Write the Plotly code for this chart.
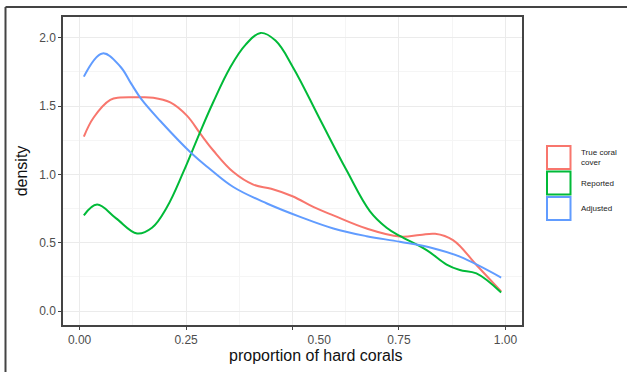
import plotly.graph_objects as go

# ---- data ----
true_x = [0.01, 0.033, 0.072, 0.095, 0.135, 0.173, 0.213, 0.252, 0.283, 0.314, 0.361, 0.408, 0.45, 0.50, 0.55, 0.596, 0.674, 0.752, 0.799, 0.835, 0.877, 0.932, 0.99]
true_y = [1.277, 1.417, 1.546, 1.563, 1.565, 1.562, 1.527, 1.43, 1.30, 1.175, 1.017, 0.925, 0.895, 0.84, 0.76, 0.70, 0.604, 0.545, 0.556, 0.565, 0.519, 0.337, 0.143]

rep_x = [0.01, 0.041, 0.085, 0.135, 0.17, 0.205, 0.244, 0.283, 0.314, 0.353, 0.39, 0.425, 0.46, 0.502, 0.565, 0.627, 0.682, 0.721, 0.752, 0.815, 0.862, 0.893, 0.932, 0.99]
rep_y = [0.70, 0.779, 0.68, 0.568, 0.61, 0.76, 1.02, 1.31, 1.53, 1.78, 1.95, 2.036, 1.98, 1.78, 1.40, 1.03, 0.73, 0.61, 0.55, 0.446, 0.34, 0.30, 0.275, 0.135]

adj_x = [0.01, 0.054, 0.0955, 0.12, 0.145, 0.189, 0.264, 0.306, 0.361, 0.44, 0.518, 0.596, 0.674, 0.752, 0.83, 0.893, 0.99]
adj_y = [1.716, 1.886, 1.79, 1.67, 1.551, 1.393, 1.151, 1.04, 0.908, 0.787, 0.689, 0.604, 0.548, 0.507, 0.46, 0.398, 0.245]

series_names = ["True coral\ncover", "Reported", "Adjusted"]
colors = ["#F8766D", "#00BA38", "#619CFF"]

x_ticks = [0.0, 0.25, 0.5, 0.75, 1.0]
x_ticktext = ["0.00", "0.25", "\u00a0" * 16 + "0.50", "0.75", "1.00"]
y_ticks = [0.0, 0.5, 1.0, 1.5, 2.0]

W, H = 627, 372
L, R, T, B = 63, 522, 17, 325  # plot panel in px

def px(xp):
    return (xp - L) / (R - L)

def py(yp):
    return (B - yp) / (B - T)

fig = go.Figure()
for xs, ys, c, n in zip([true_x, rep_x, adj_x], [true_y, rep_y, adj_y], colors, series_names):
    fig.add_trace(go.Scatter(x=xs, y=ys, mode="lines", name=n,
                             line=dict(color=c, width=2, shape="spline", smoothing=1.1),
                             showlegend=False, hoverinfo="skip"))

shapes = []
annotations = []
# outer frame (left & top)
shapes.append(dict(type="line", xref="paper", yref="paper", x0=px(5.5), x1=px(640), y0=py(7), y1=py(7),
                   line=dict(color="#444444", width=2)))
shapes.append(dict(type="line", xref="paper", yref="paper", x0=px(5.5), x1=px(5.5), y0=py(7), y1=py(390),
                   line=dict(color="#444444", width=2)))

# legend boxes
box_tops = [145, 170.5, 196]
for i, (c, n) in enumerate(zip(colors, series_names)):
    y0 = box_tops[i]
    shapes.append(dict(type="rect", xref="paper", yref="paper",
                       x0=px(547), x1=px(570.5), y0=py(y0 + 1), y1=py(y0 + 24),
                       line=dict(color=c, width=2), fillcolor="white"))
    txt = n.replace("\n", "<br>")
    annotations.append(dict(xref="paper", yref="paper", x=px(579), y=py(y0 + 12.5),
                            text=txt, showarrow=False, xanchor="left", yanchor="middle",
                            align="left", font=dict(size=8, color="#222222", family="Liberation Sans")))

# x-axis title (offset to the right as in the reference)
annotations.append(dict(xref="paper", yref="paper", x=px(315.5), y=py(355),
                        text="proportion of hard corals", showarrow=False,
                        xanchor="center", yanchor="middle",
                        font=dict(size=16, color="#111111", family="Liberation Sans")))

fig.update_layout(
    width=W, height=H,
    margin=dict(l=L, r=W - R, t=T, b=H - B),
    paper_bgcolor="white", plot_bgcolor="white",
    font=dict(family="Liberation Sans", color="#222222"),
    shapes=shapes, annotations=annotations,
    showlegend=False,
)
fig.update_xaxes(range=[-0.039, 1.039], tickvals=x_ticks, ticktext=x_ticktext,
                 showgrid=True, gridcolor="#EBEBEB", gridwidth=1.2,
                 minor=dict(showgrid=True, gridcolor="#F5F5F5", dtick=0.125, tick0=0.125, gridwidth=1),
                 showline=True, mirror=True, linecolor="#444444", linewidth=1.5,
                 ticks="outside", ticklen=3, tickcolor="#444444", tickwidth=1,
                 tickfont=dict(size=12, color="#4D4D4D"), zeroline=False)
fig.update_yaxes(range=[-0.1025, 2.1525], tickvals=y_ticks, tickformat=".1f",
                 showgrid=True, gridcolor="#EBEBEB", gridwidth=1.2,
                 minor=dict(showgrid=True, gridcolor="#F5F5F5", dtick=0.25, tick0=0.25, gridwidth=1),
                 showline=True, mirror=True, linecolor="#444444", linewidth=1.5,
                 ticks="outside", ticklen=3, tickcolor="#444444", tickwidth=1,
                 tickfont=dict(size=12, color="#4D4D4D"), zeroline=False,
                 title=dict(text="density", font=dict(size=16, color="#111111"), standoff=8))

fig.write_html("out.html")
